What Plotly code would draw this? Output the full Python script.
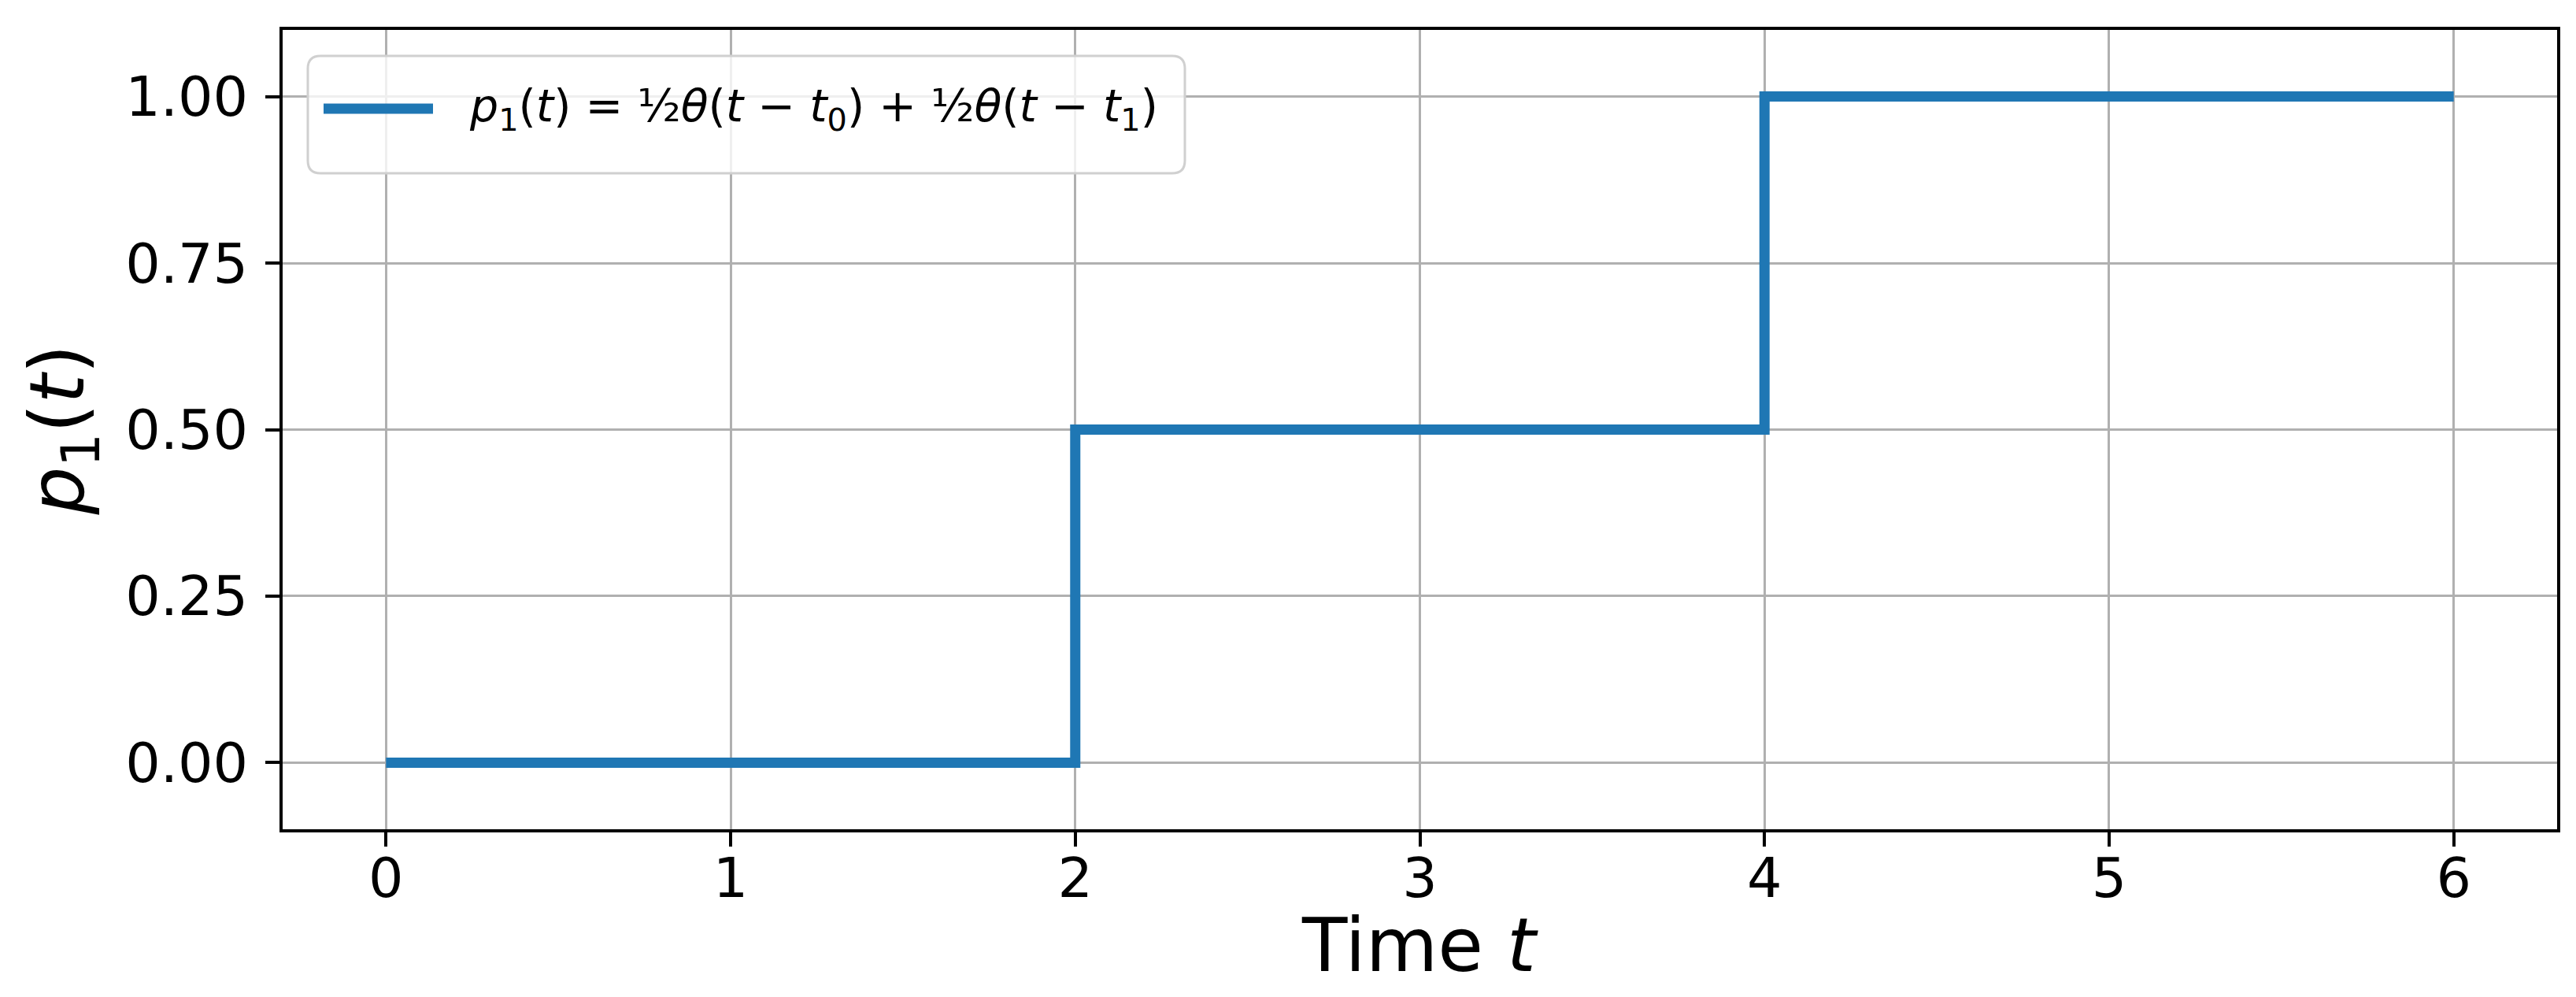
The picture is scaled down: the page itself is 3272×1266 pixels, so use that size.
import plotly.graph_objects as go

# step function p1(t) = 1/2 theta(t - t0) + 1/2 theta(t - t1), t0 = 2, t1 = 4
t_vals = [0, 2, 4, 6]
p1_vals = [0.0, 0.5, 1.0, 1.0]

x_ticks = [0, 1, 2, 3, 4, 5, 6]
y_ticks = [0.0, 0.25, 0.5, 0.75, 1.0]
y_tick_labels = ["0.00", "0.25", "0.50", "0.75", "1.00"]

legend_label = ("<i>p</i><sub>1</sub>(<i>t</i>) = ½<i>θ</i>(<i>t</i> − <i>t</i><sub>0</sub>)"
                " + ½<i>θ</i>(<i>t</i> − <i>t</i><sub>1</sub>)")

W, H = 3272, 1266
L, R, T, B = 351, 32, 30, 221
blue = "#1f77b4"
font = "DejaVu Sans"


def px_to_paper(px, py):
    # pixel position in the page -> paper coords of the plot area
    return (px - L) / (W - L - R), 1 - (py - T) / (H - T - B)


fig = go.Figure()
fig.add_trace(go.Scatter(
    x=t_vals, y=p1_vals, mode="lines", line_shape="hv",
    line=dict(color=blue, width=13), name=legend_label, showlegend=False,
))

# hand made legend box (matplotlib style: rounded, translucent)
bx0, by0, bx1, by1, r = 383, 63, 1497, 212, 16
p = [px_to_paper(*c) for c in [
    (bx0 + r, by0), (bx1 - r, by0), (bx1, by0), (bx1, by0 + r), (bx1, by1 - r), (bx1, by1),
    (bx1 - r, by1), (bx0 + r, by1), (bx0, by1), (bx0, by1 - r), (bx0, by0 + r), (bx0, by0)]]
path = (f"M{p[0][0]},{p[0][1]} L{p[1][0]},{p[1][1]} Q{p[2][0]},{p[2][1]} {p[3][0]},{p[3][1]} "
        f"L{p[4][0]},{p[4][1]} Q{p[5][0]},{p[5][1]} {p[6][0]},{p[6][1]} "
        f"L{p[7][0]},{p[7][1]} Q{p[8][0]},{p[8][1]} {p[9][0]},{p[9][1]} "
        f"L{p[10][0]},{p[10][1]} Q{p[11][0]},{p[11][1]} {p[0][0]},{p[0][1]} Z")
fig.add_shape(type="path", path=path, xref="paper", yref="paper",
              fillcolor="rgba(255,255,255,0.8)", line=dict(color="#d0d0d0", width=3), layer="above")

lx0, ly = px_to_paper(403, 130)
lx1, _ = px_to_paper(542, 130)
fig.add_shape(type="line", x0=lx0, x1=lx1, y0=ly, y1=ly, xref="paper", yref="paper",
              line=dict(color=blue, width=13), layer="above")
tx, _ = px_to_paper(586, 130)
fig.add_annotation(x=tx, y=ly, xref="paper", yref="paper", xanchor="left", yanchor="middle",
                   text=legend_label, showarrow=False, font=dict(family=font, size=57, color="black"))

# x axis label as annotation so it sits where matplotlib put it
_, xt_y = px_to_paper(0, 1192)
fig.add_annotation(x=0.5, y=xt_y, xref="paper", yref="paper", xanchor="center", yanchor="middle",
                   text="Time <i>t</i>", showarrow=False, font=dict(family=font, size=94, color="black"))

axis_common = dict(
    showline=True, mirror=True, linecolor="black", linewidth=4,
    showgrid=True, gridcolor="#b0b0b0", gridwidth=3, zeroline=False,
    ticks="outside", ticklen=18, tickwidth=4, tickcolor="black",
    tickfont=dict(family=font, size=70, color="black"),
)

fig.update_xaxes(range=[-0.3, 6.3], tickvals=x_ticks, ticklabelstandoff=-20, **axis_common)
fig.update_yaxes(range=[-0.1, 1.1], tickvals=y_ticks, ticktext=y_tick_labels, ticklabelstandoff=8,
                 title=dict(text="<i>p</i><sub>1</sub>(<i>t</i>)", font=dict(family=font, size=96, color="black"), standoff=22),
                 **axis_common)

fig.update_layout(
    width=W, height=H,
    margin=dict(l=L, r=R, t=T, b=B),
    plot_bgcolor="white", paper_bgcolor="white",
    font=dict(family=font, color="black"),
)

fig.write_html("out.html")
